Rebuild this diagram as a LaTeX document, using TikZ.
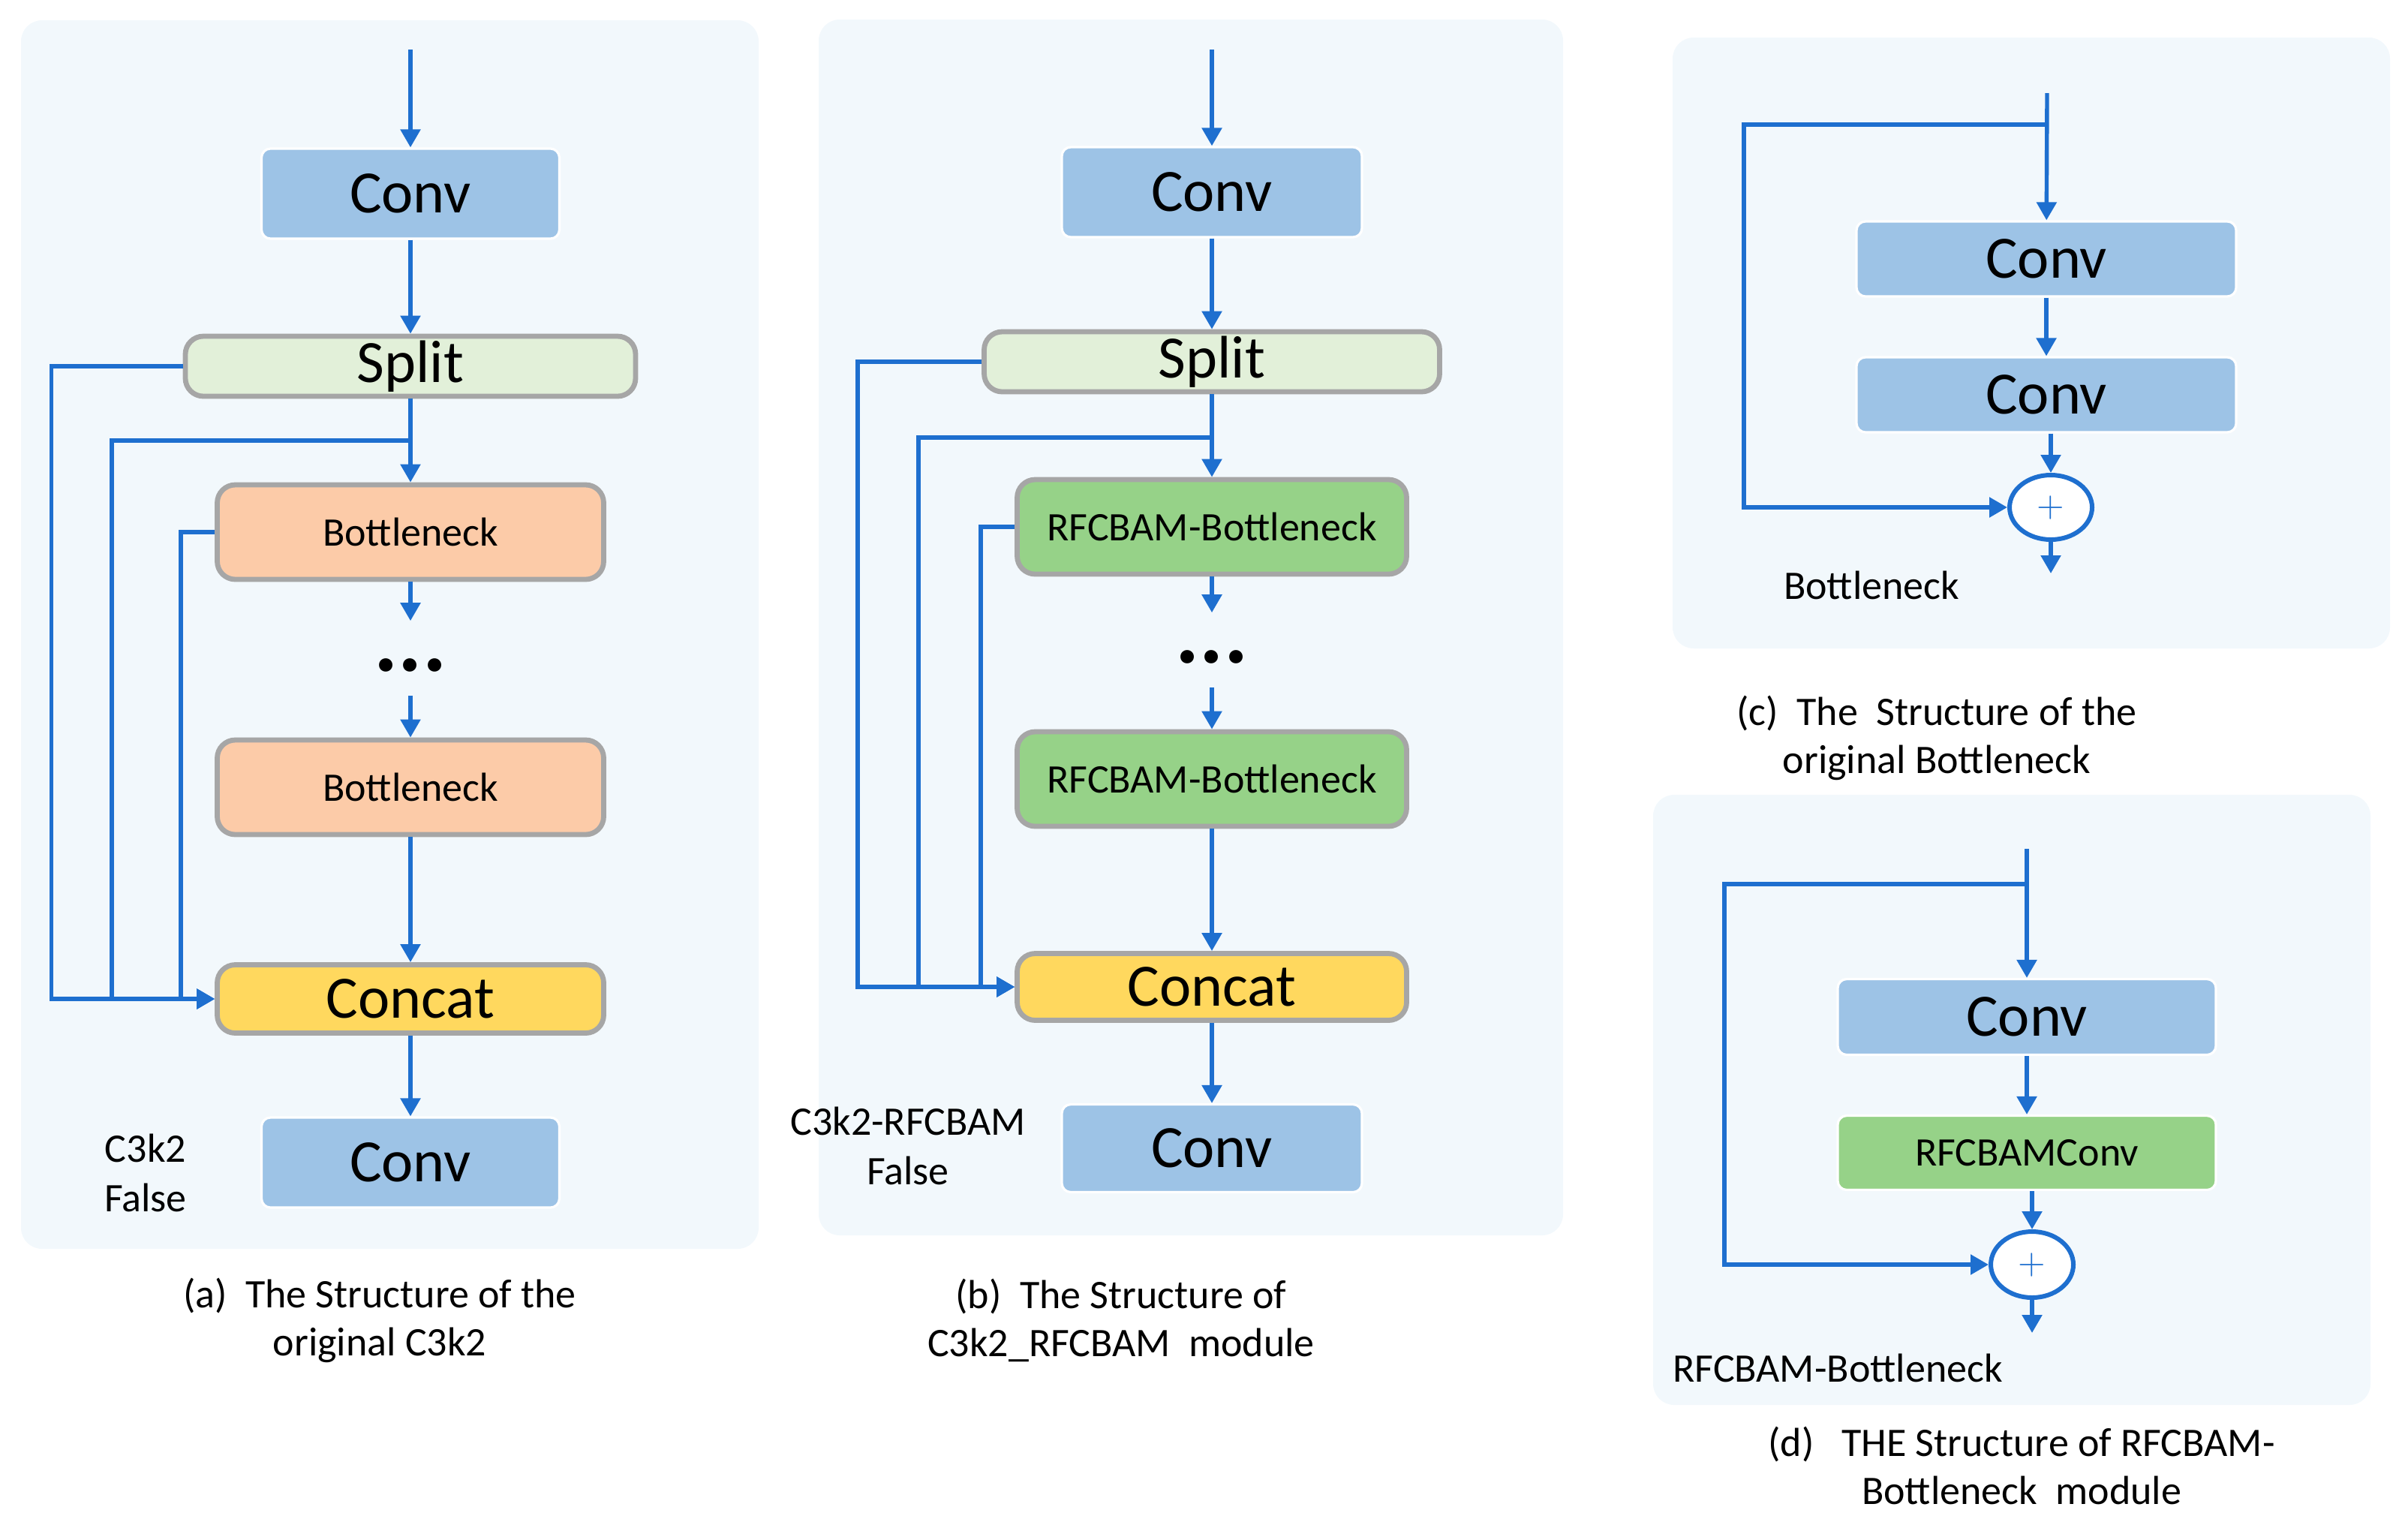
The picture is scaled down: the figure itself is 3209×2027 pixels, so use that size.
\documentclass[tikz,border=0pt]{standalone}
\usepackage{fontspec}
\setmainfont{Carlito}
\usetikzlibrary{arrows.meta, shapes.geometric}

\definecolor{panelbg}{HTML}{F2F8FC}
\definecolor{convblue}{HTML}{9DC3E6}
\definecolor{splitgreen}{HTML}{E2F0D9}
\definecolor{bnpeach}{HTML}{FCCBA8}
\definecolor{rfgreen}{HTML}{96D288}
\definecolor{catyellow}{HTML}{FFD85E}
\definecolor{boxedge}{HTML}{A6A6A6}
\definecolor{flowblue}{HTML}{1E6FCF}

\begin{document}
\begin{tikzpicture}[x=0.25pt, y=-0.25pt,
  panel/.style={fill=panelbg, rounded corners=7pt},
  big/.style={font=\fontsize{20}{24}\selectfont},
  small/.style={font=\fontsize{13.5}{16.5}\selectfont},
  capt/.style={font=\fontsize{13.5}{16}\selectfont, align=center},
  convbox/.style={big, fill=convblue, draw=white, line width=0.8pt, rounded corners=3pt, inner sep=0pt},
  graybox/.style={draw=boxedge, line width=1.7pt, rounded corners=6pt, inner sep=0pt},
  splitbox/.style={graybox, big, fill=splitgreen, minimum height=20pt},
  bnbox/.style={graybox, small, fill=bnpeach, minimum width=128.75pt, minimum height=31.5pt},
  rfbox/.style={graybox, small, fill=rfgreen, minimum width=129.75pt, minimum height=31.5pt},
  catbox/.style={graybox, big, fill=catyellow},
  dots/.style={font=\fontsize{30}{30}\bfseries\selectfont, inner sep=0pt, minimum height=24.5pt,
    text height=8.6pt, text depth=0pt},
  addnode/.style={ellipse, draw=flowblue, line width=1.5pt, fill=white, inner sep=0pt,
    minimum width=27.5pt, minimum height=21.5pt, font=\fontsize{13}{13}\selectfont, text=flowblue},
  flow/.style={draw=flowblue, line width=1.35pt, -{Triangle[length=6pt, width=6.5pt]}},
  link/.style={draw=flowblue, line width=1.35pt}]
\useasboundingbox (0,0) rectangle (3209,2027);

% panels
\fill[panel] (28,27) rectangle (1011,1664);
\fill[panel] (1091,26) rectangle (2083,1646);
\fill[panel] (2229,50) rectangle (3185,864);
\fill[panel] (2203,1059) rectangle (3159,1872);

% (a) C3k2
\coordinate (inA) at (547,66);
\coordinate (jA) at (547,587);
\node[convbox, minimum width=99.25pt, minimum height=30pt] (convA1) at (547,258) {Conv};
\node[splitbox, minimum width=150pt] (splitA) at (547,488) {Split};
\node[bnbox] (bnA1) at (547,709) {Bottleneck};
\node[dots] (dotsA) at (547,877) {...};
\node[bnbox] (bnA2) at (547,1049) {Bottleneck};
\node[catbox, minimum width=128.75pt, minimum height=22.75pt] (catA) at (547,1331) {Concat};
\node[convbox, minimum width=99.25pt, minimum height=30pt] (convA2) at (547,1549) {Conv};
\node[small, align=center] (tagA) at (194,1563) {C3k2\\False};
\draw[flow] (inA) -- (convA1);
\draw[flow] (convA1) -- (splitA);
\draw[flow] (splitA) -- (bnA1);
\draw[flow] (bnA1) -- (dotsA);
\draw[flow] (dotsA) -- (bnA2);
\draw[flow] (bnA2) -- (catA);
\draw[flow] (catA) -- (convA2);
\draw[flow] (splitA.west) -- ++(-175,0) |- (catA.west);
\draw[flow] (jA) -- ++(-398,0) |- (catA.west);
\draw[flow] (bnA1.west) -- ++(-45,0) |- (catA.west);
\node[capt] (captA) at (506,1759) {(a)~~The Structure of the\\original C3k2};

% (b) C3k2-RFCBAM
\coordinate (inB) at (1615,66);
\coordinate (jB) at (1615,583);
\node[convbox, minimum width=100pt, minimum height=30pt] (convB1) at (1615,256) {Conv};
\node[splitbox, minimum width=151.75pt] (splitB) at (1615,482) {Split};
\node[rfbox] (rbB1) at (1615,702) {RFCBAM-Bottleneck};
\node[dots] (dotsB) at (1615,866) {...};
\node[rfbox] (rbB2) at (1615,1038) {RFCBAM-Bottleneck};
\node[catbox, minimum width=129.75pt, minimum height=22.25pt] (catB) at (1615,1315) {Concat};
\node[convbox, minimum width=100pt, minimum height=29.25pt] (convB2) at (1615,1530) {Conv};
\node[small, align=center] (tagB) at (1210,1527) {C3k2-RFCBAM\\False};
\draw[flow] (inB) -- (convB1);
\draw[flow] (convB1) -- (splitB);
\draw[flow] (splitB) -- (rbB1);
\draw[flow] (rbB1) -- (dotsB);
\draw[flow] (dotsB) -- (rbB2);
\draw[flow] (rbB2) -- (catB);
\draw[flow] (catB) -- (convB2);
\draw[flow] (splitB.west) -- ++(-165,0) |- (catB.west);
\draw[flow] (jB) -- ++(-391,0) |- (catB.west);
\draw[flow] (rbB1.west) -- ++(-45,0) |- (catB.west);
\node[capt] (captB) at (1494,1759) {(b)~~The Structure of\\C3k2\_RFCBAM~~module};

% (c) Bottleneck
\coordinate (inC) at (2728,124);
\coordinate (jC) at (2728,166);
\node[convbox, minimum width=126.5pt, minimum height=25pt] (convC1) at (2727,345) {Conv};
\node[convbox, minimum width=126.5pt, minimum height=25pt] (convC2) at (2727,526) {Conv};
\node[addnode] (addC) at (2733,676) {$+$};
\coordinate (outC) at (2733,764);
\node[small] (tagC) at (2494,780) {Bottleneck};
\draw[flow] (inC) -- (convC1);
\draw[flow] (convC1) -- (convC2);
\draw[flow] (convC2.south -| addC) -- (addC);
\draw[flow] (addC) -- (outC);
\draw[flow] (jC) -- ++(-404,0) |- (addC.west);
\node[capt] (captC) at (2581,983) {(c)~~The~~Structure of the\\original Bottleneck};

% (d) RFCBAM-Bottleneck
\coordinate (inD) at (2701,1131);
\coordinate (jD) at (2701,1178);
\node[convbox, minimum width=126pt, minimum height=25.25pt] (convD) at (2701,1355) {Conv};
\node[small, fill=rfgreen, draw=white, line width=0.8pt, rounded corners=3pt, inner sep=0pt,
  minimum width=126pt, minimum height=24.75pt] (rfD) at (2701,1536) {RFCBAMConv};
\node[addnode, minimum height=22pt] (addD) at (2708,1685) {$+$};
\coordinate (outD) at (2708,1776);
\node[small] (tagD) at (2449,1823) {RFCBAM-Bottleneck};
\draw[flow] (inD) -- (convD);
\draw[flow] (convD) -- (rfD);
\draw[flow] (rfD.south -| addD) -- (addD);
\draw[flow] (addD) -- (outD);
\draw[flow] (jD) -- ++(-403,0) |- (addD.west);
\node[capt] (captD) at (2694,1953) {(d)~~~THE Structure of RFCBAM-\\Bottleneck~~module};
\end{tikzpicture}
\end{document}
